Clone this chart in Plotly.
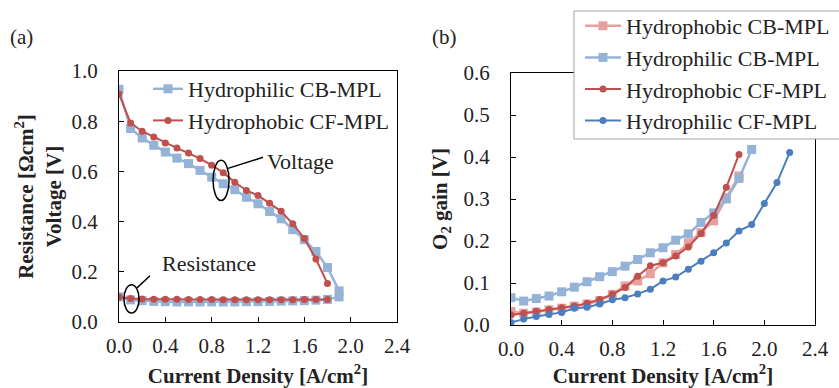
import plotly.graph_objects as go

# ---------- data: panel (a) ----------
x_cb = [round(0.1 * i, 1) for i in range(20)]      # 0.0 .. 1.9
x_cf = [round(0.1 * i, 1) for i in range(19)]      # 0.0 .. 1.8
v_hphil_cb = [0.927, 0.771, 0.733, 0.704, 0.677, 0.653, 0.631, 0.604, 0.577, 0.551,
              0.527, 0.497, 0.471, 0.440, 0.411, 0.368, 0.328, 0.281, 0.217, 0.124]
r_hphil_cb = [0.100, 0.088, 0.085, 0.082, 0.081, 0.080, 0.080, 0.080, 0.080, 0.080,
              0.080, 0.081, 0.081, 0.082, 0.083, 0.084, 0.085, 0.087, 0.090, 0.100]
v_hphob_cf = [0.908, 0.793, 0.760, 0.737, 0.713, 0.693, 0.673, 0.651, 0.625, 0.595,
              0.557, 0.524, 0.504, 0.473, 0.441, 0.391, 0.333, 0.251, 0.153]
r_hphob_cf = [0.100, 0.094, 0.092, 0.091, 0.091, 0.091, 0.090, 0.090, 0.090, 0.089,
              0.089, 0.089, 0.089, 0.089, 0.089, 0.089, 0.090, 0.090, 0.090]

# ---------- data: panel (b) ----------
xb_hphob_cb = [round(0.1 * i, 1) for i in range(19)]   # 0.0 .. 1.8
xb_hphil_cb = [round(0.1 * i, 1) for i in range(20)]   # 0.0 .. 1.9
xb_hphob_cf = [round(0.1 * i, 1) for i in range(19)]   # 0.0 .. 1.8
xb_hphil_cf = [round(0.1 * i, 1) for i in range(23)]   # 0.0 .. 2.2
g_hphob_cb = [0.032, 0.028, 0.031, 0.036, 0.040, 0.045, 0.050, 0.058, 0.073, 0.093,
              0.105, 0.122, 0.148, 0.168, 0.195, 0.220, 0.248, 0.303, 0.355]
g_hphil_cb = [0.065, 0.057, 0.063, 0.069, 0.079, 0.090, 0.103, 0.115, 0.127, 0.140,
              0.156, 0.172, 0.184, 0.202, 0.217, 0.244, 0.267, 0.300, 0.349, 0.418]
g_hphob_cf = [0.024, 0.028, 0.033, 0.037, 0.041, 0.045, 0.052, 0.061, 0.073, 0.089,
              0.116, 0.141, 0.148, 0.164, 0.186, 0.218, 0.261, 0.328, 0.406]
g_hphil_cf = [0.006, 0.014, 0.020, 0.025, 0.030, 0.040, 0.042, 0.050, 0.060, 0.065,
              0.074, 0.085, 0.105, 0.114, 0.133, 0.152, 0.172, 0.195, 0.224, 0.239,
              0.289, 0.339, 0.411]

x_ticks = [0.0, 0.4, 0.8, 1.2, 1.6, 2.0, 2.4]
ya_ticks = [0.0, 0.2, 0.4, 0.6, 0.8, 1.0]
yb_ticks = [0.0, 0.1, 0.2, 0.3, 0.4, 0.5, 0.6]

LBLUE = "#95B3D7"
RED = "#C0504D"
PINK = "#E6A09E"
DBLUE = "#4A7EBF"
FONT = "Liberation Serif"
TXT = "#222"

W, H = 839, 388


def px(x):
    return x / W


def py(y):
    return 1 - y / H


fig = go.Figure()

sq_lb = dict(symbol="square", size=9, color=LBLUE)
ci_red = dict(symbol="circle", size=7, color=RED)

# panel (a)
fig.add_trace(go.Scatter(x=x_cb, y=v_hphil_cb, mode="lines+markers", name="Hydrophilic CB-MPL",
                         line=dict(color=LBLUE, width=2.5), marker=sq_lb,
                         xaxis="x", yaxis="y", legend="legend"))
fig.add_trace(go.Scatter(x=x_cb, y=r_hphil_cb, mode="lines+markers", name="Hydrophilic CB-MPL",
                         line=dict(color=LBLUE, width=2.5), marker=sq_lb, showlegend=False,
                         xaxis="x", yaxis="y", legend="legend"))
fig.add_trace(go.Scatter(x=x_cf, y=v_hphob_cf, mode="lines+markers", name="Hydrophobic CF-MPL",
                         line=dict(color=RED, width=2), marker=ci_red,
                         xaxis="x", yaxis="y", legend="legend"))
fig.add_trace(go.Scatter(x=x_cf, y=r_hphob_cf, mode="lines+markers", name="Hydrophobic CF-MPL",
                         line=dict(color=RED, width=2), marker=ci_red, showlegend=False,
                         xaxis="x", yaxis="y", legend="legend"))

# panel (b)
fig.add_trace(go.Scatter(x=xb_hphob_cb, y=g_hphob_cb, mode="lines+markers", name="Hydrophobic CB-MPL",
                         line=dict(color=PINK, width=2.5), marker=dict(symbol="square", size=9, color=PINK),
                         xaxis="x2", yaxis="y2", legend="legend2"))
fig.add_trace(go.Scatter(x=xb_hphil_cb, y=g_hphil_cb, mode="lines+markers", name="Hydrophilic CB-MPL",
                         line=dict(color=LBLUE, width=2.5), marker=sq_lb,
                         xaxis="x2", yaxis="y2", legend="legend2"))
fig.add_trace(go.Scatter(x=xb_hphob_cf, y=g_hphob_cf, mode="lines+markers", name="Hydrophobic CF-MPL",
                         line=dict(color=RED, width=2), marker=ci_red,
                         xaxis="x2", yaxis="y2", legend="legend2"))
fig.add_trace(go.Scatter(x=xb_hphil_cf, y=g_hphil_cf, mode="lines+markers", name="Hydrophilic CF-MPL",
                         line=dict(color=DBLUE, width=2), marker=dict(symbol="circle", size=7, color=DBLUE),
                         xaxis="x2", yaxis="y2", legend="legend2"))

axis_common = dict(showline=True, linecolor="black", linewidth=1.3, mirror=True,
                   ticks="inside", ticklen=5, tickcolor="black", tickwidth=1,
                   showgrid=False, zeroline=False, tickformat=".1f",
                   tickfont=dict(family=FONT, size=21, color=TXT))
title_font = dict(family=FONT, size=21, color=TXT)

fig.update_layout(
    width=W, height=H,
    margin=dict(l=0, r=0, t=0, b=0, autoexpand=False),
    paper_bgcolor="white", plot_bgcolor="white",
    font=dict(family=FONT, size=21, color=TXT),
    xaxis=dict(domain=[px(119), px(397)], range=[0, 2.4], tickvals=x_ticks, ticklabelstandoff=5,
               title=dict(text="<b>Current Density [A/cm<sup>2</sup>]</b>", font=title_font, standoff=10),
               anchor="y", **axis_common),
    yaxis=dict(domain=[py(322), py(71)], range=[0, 1.0], tickvals=ya_ticks, ticklabelstandoff=16,
               title=dict(text="<b>Resistance [Ωcm<sup>2</sup>]<br>Voltage [V]</b>", font=title_font, standoff=4),
               anchor="x", **axis_common),
    xaxis2=dict(domain=[px(511), px(815)], range=[0, 2.4], tickvals=x_ticks, ticklabelstandoff=5,
                title=dict(text="<b>Current Density [A/cm<sup>2</sup>]</b>", font=title_font, standoff=10),
                anchor="y2", **axis_common),
    yaxis2=dict(domain=[py(325), py(73)], range=[0, 0.6], tickvals=yb_ticks, ticklabelstandoff=16,
                title=dict(text="<b>O<sub>2</sub> gain [V]</b>", font=title_font, standoff=10),
                anchor="x2", **axis_common),
    legend=dict(x=px(148), y=py(68), xanchor="left", yanchor="top",
                bgcolor="rgba(0,0,0,0)", borderwidth=0,
                font=dict(family=FONT, size=22, color=TXT)),
    legend2=dict(x=px(580), y=py(5), xanchor="left", yanchor="top", itemwidth=36,
                 bgcolor="rgba(0,0,0,0)", borderwidth=0,
                 font=dict(family=FONT, size=22, color=TXT)),
    showlegend=True,
)

# legend box of panel (b), drawn over the plot lines
fig.add_shape(type="rect", xref="paper", yref="paper", x0=px(574), x1=px(850), y0=py(139), y1=py(11),
              fillcolor="white", line=dict(color="#A6A6A6", width=1), layer="above")

# annotation ellipses and leader lines (panel a, data coords)
fig.add_shape(type="circle", xref="x", yref="y", x0=0.812, x1=0.950, y0=0.484, y1=0.644,
              line=dict(color="black", width=1.5))
fig.add_shape(type="line", xref="x", yref="y", x0=0.941, y0=0.612, x1=1.243, y1=0.656,
              line=dict(color="black", width=1.5))
fig.add_shape(type="circle", xref="x", yref="y", x0=0.043, x1=0.173, y0=0.036, y1=0.148,
              line=dict(color="black", width=1.5))
fig.add_shape(type="line", xref="x", yref="y", x0=0.155, y0=0.136, x1=0.268, y1=0.184,
              line=dict(color="black", width=1.5))

fig.add_annotation(x=1.26, y=0.64, xref="x", yref="y", text="Voltage", showarrow=False,
                   xanchor="left", yanchor="middle", font=dict(family=FONT, size=22, color=TXT))
fig.add_annotation(x=0.354, y=0.232, xref="x", yref="y", text="Resistance", showarrow=False,
                   xanchor="left", yanchor="middle", font=dict(family=FONT, size=22, color=TXT))
fig.add_annotation(x=px(8), y=py(37), xref="paper", yref="paper", text="(a)", showarrow=False,
                   xanchor="left", yanchor="middle", font=dict(family=FONT, size=21, color=TXT))
fig.add_annotation(x=px(430), y=py(37), xref="paper", yref="paper", text="(b)", showarrow=False,
                   xanchor="left", yanchor="middle", font=dict(family=FONT, size=21, color=TXT))

fig.write_html("out.html", config={"displayModeBar": False},
               post_script="document.body.style.margin='0px';")
